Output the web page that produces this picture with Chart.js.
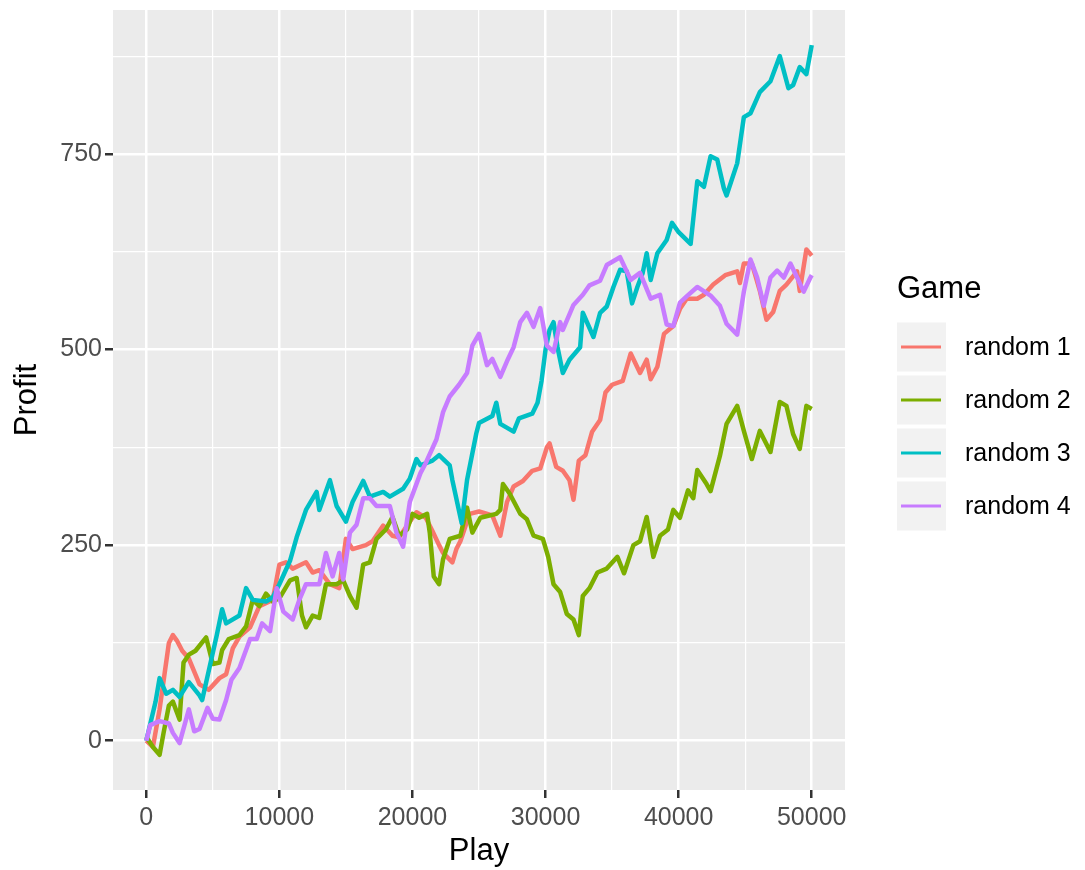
<!DOCTYPE html>
<html>
<head>
<meta charset="utf-8">
<script src="https://cdn.jsdelivr.net/npm/chart.js@4.4.1/dist/chart.umd.min.js"></script>
<style>
  body { margin: 0; background: #ffffff; }
  #wrap { width: 1085px; height: 870px; }
</style>
</head>
<body>
<div id="wrap"><canvas id="profitChart" width="1085" height="870"></canvas></div>
<script>
// Datos (jugada, beneficio)
const games = ['random 1', 'random 2', 'random 3', 'random 4'];
const colors = ['#F8766D', '#7CAE00', '#00BFC4', '#C77CFF'];

const plays1 = [0, 500, 1000, 1700, 2000, 2300, 2700, 3200, 4000, 4700, 5500, 6000, 6500, 7000, 7800, 8500, 9500, 10000, 10500, 11000, 12000, 12500, 13000, 13800, 14500, 15000, 15500, 16500, 17000, 17800, 18500, 19000, 19800, 20300, 21000, 21500, 22000, 22300, 23000, 23300, 23600, 24300, 25000, 26000, 26600, 27100, 27600, 28300, 29000, 29600, 30100, 30300, 30800, 31300, 31800, 32100, 32500, 33000, 33500, 34100, 34500, 35000, 35800, 36400, 37100, 37600, 37900, 38400, 38900, 39600, 40100, 40600, 41400, 41900, 42600, 43500, 44400, 44600, 44900, 45500, 46100, 46600, 47100, 47600, 48100, 48900, 49100, 49600, 50000];
const profit1 = [0, -8, 40, 125, 135, 128, 115, 105, 72, 65, 80, 85, 118, 133, 145, 172, 180, 225, 228, 220, 228, 215, 218, 200, 195, 258, 245, 250, 255, 275, 262, 260, 280, 292, 285, 268, 250, 240, 228, 245, 255, 290, 293, 288, 262, 305, 325, 332, 345, 348, 375, 380, 350, 345, 333, 308, 358, 365, 395, 410, 445, 455, 460, 495, 470, 487, 462, 478, 520, 530, 552, 565, 565, 570, 583, 595, 600, 585, 610, 610, 575, 538, 548, 575, 583, 600, 575, 628, 620];

const plays2 = [0, 500, 1000, 1300, 1700, 2000, 2500, 2800, 3200, 3700, 4500, 5000, 5500, 5700, 6200, 7000, 7500, 8000, 8500, 9000, 9500, 10000, 10800, 11300, 11700, 12000, 12500, 13000, 13500, 14300, 14800, 15300, 15800, 16300, 16800, 17300, 18000, 18500, 19000, 19600, 20000, 20500, 21100, 21300, 21600, 22000, 22300, 22800, 23600, 24100, 24500, 25100, 26300, 26600, 26800, 27300, 28100, 28600, 29100, 29800, 30200, 30600, 31100, 31600, 32100, 32500, 32800, 33300, 33900, 34600, 35400, 35900, 36600, 37100, 37600, 38100, 38600, 39200, 39600, 40100, 40700, 41100, 41400, 42100, 42400, 43100, 43600, 44400, 44900, 45500, 46100, 46900, 47600, 48100, 48600, 49100, 49600, 50000];
const profit2 = [5, -8, -18, 10, 45, 50, 27, 100, 110, 115, 132, 98, 100, 116, 130, 135, 146, 180, 172, 188, 178, 182, 205, 208, 160, 145, 160, 157, 200, 200, 205, 185, 170, 225, 228, 258, 270, 286, 262, 270, 290, 285, 290, 266, 210, 200, 232, 258, 262, 298, 266, 285, 290, 295, 328, 316, 290, 283, 262, 258, 235, 200, 190, 162, 155, 135, 185, 195, 215, 220, 235, 214, 250, 255, 286, 235, 262, 270, 295, 285, 320, 310, 346, 328, 319, 364, 405, 428, 396, 360, 396, 369, 433, 428, 392, 373, 428, 424];

const plays3 = [0, 700, 1000, 1500, 2000, 2500, 3200, 4000, 4200, 5300, 5700, 6000, 7000, 7500, 8000, 9000, 9500, 10000, 10800, 11300, 12000, 12800, 13000, 13800, 14300, 15000, 15500, 16300, 16800, 17800, 18300, 19300, 19800, 20300, 20600, 21500, 22000, 22800, 23000, 23700, 24100, 24800, 25000, 26000, 26300, 26600, 27600, 28000, 29000, 29400, 29700, 30000, 30300, 30600, 30900, 31300, 31800, 32600, 32800, 33600, 34100, 34600, 35100, 35600, 36100, 36500, 36900, 37300, 37600, 37900, 38400, 39100, 39500, 40000, 40900, 41400, 41900, 42400, 42900, 43400, 43600, 44400, 44900, 45400, 46100, 46900, 47600, 48250, 48600, 49100, 49600, 50000];
const profit3 = [0, 50, 80, 60, 65, 56, 75, 58, 52, 135, 168, 150, 160, 195, 180, 178, 183, 200, 230, 260, 295, 318, 295, 333, 300, 280, 305, 332, 312, 318, 312, 322, 335, 360, 352, 358, 365, 352, 333, 278, 333, 393, 406, 415, 432, 405, 395, 412, 418, 432, 460, 500, 525, 535, 503, 470, 487, 503, 547, 516, 547, 555, 580, 602, 600, 559, 580, 598, 623, 589, 623, 640, 662, 650, 635, 715, 708, 747, 743, 706, 697, 738, 797, 802, 829, 843, 875, 834, 838, 861, 852, 889];

const plays4 = [0, 300, 1000, 1700, 2000, 2500, 3200, 3600, 4000, 4600, 5000, 5500, 6000, 6400, 7000, 7800, 8300, 8700, 9300, 9800, 10300, 11000, 11500, 12000, 13000, 13500, 14000, 14500, 14800, 15300, 15800, 16300, 16800, 17300, 18300, 18800, 19300, 19800, 20600, 21000, 21800, 22300, 22800, 23500, 24100, 24500, 25000, 25600, 26000, 26600, 27100, 27600, 28100, 28600, 29100, 29600, 30100, 30600, 31100, 31300, 32100, 32800, 33300, 34100, 34600, 35600, 36400, 37100, 37900, 38600, 39100, 39600, 40100, 40600, 41400, 42400, 43100, 43600, 44400, 44900, 45400, 45900, 46400, 46900, 47400, 47900, 48400, 48900, 49400, 49900, 50000];
const profit4 = [0, 20, 25, 22, 10, -3, 40, 12, 15, 42, 28, 27, 52, 78, 93, 130, 130, 150, 140, 195, 165, 155, 180, 200, 200, 240, 210, 240, 206, 266, 276, 310, 310, 300, 300, 266, 248, 305, 342, 355, 385, 420, 440, 455, 470, 505, 520, 480, 488, 465, 485, 503, 535, 547, 529, 553, 505, 497, 535, 525, 557, 570, 582, 588, 608, 618, 589, 598, 565, 570, 532, 530, 560, 568, 580, 569, 556, 533, 519, 574, 615, 592, 556, 592, 601, 592, 610, 592, 574, 592, 595];

const xTicks = [0, 5000, 10000, 15000, 20000, 25000, 30000, 35000, 40000, 45000, 50000];
const yTicks = [0, 125, 250, 375, 500, 625, 750, 875];

const allPlays = [plays1, plays2, plays3, plays4];
const allProfit = [profit1, profit2, profit3, profit4];

const FONT = "'Liberation Sans', Arial, Helvetica, sans-serif";

const xMajor = v => v % 10000 === 0;
const yMajor = v => v % 250 === 0;

// Fondo gris del panel (estilo ggplot)
const panelBg = {
    id: 'panelBg',
    beforeDraw(chart) {
        const { ctx, chartArea: a } = chart;
        ctx.save();
        ctx.fillStyle = '#FFFFFF';
        ctx.fillRect(0, 0, chart.width, chart.height);
        ctx.fillStyle = '#EBEBEB';
        ctx.fillRect(a.left, a.top, a.right - a.left, a.bottom - a.top);
        ctx.restore();
    }
};

// Leyenda dibujada a mano con cajas grises
const gameLegend = {
    id: 'gameLegend',
    afterDraw(chart) {
        const ctx = chart.ctx;
        const left = chart.chartArea.right + 52;
        const box = 49;
        const step = 53;
        const firstY = 347;
        ctx.save();
        ctx.fillStyle = '#000000';
        ctx.font = '31px ' + FONT;
        ctx.textAlign = 'left';
        ctx.textBaseline = 'middle';
        ctx.fillText('Game', left, 289);
        ctx.font = '25px ' + FONT;
        games.forEach((g, i) => {
            const cy = firstY + i * step;
            ctx.fillStyle = '#F2F2F2';
            ctx.fillRect(left, cy - box / 2, box, box);
            ctx.strokeStyle = colors[i];
            ctx.lineWidth = 3;
            ctx.beginPath();
            ctx.moveTo(left + 4, cy);
            ctx.lineTo(left + box - 5, cy);
            ctx.stroke();
            ctx.fillStyle = '#000000';
            ctx.fillText(g, left + 68, cy + 1);
        });
        ctx.restore();
    }
};

const datasets = games.map((g, i) => ({
    label: g,
    data: allPlays[i].map((p, j) => ({ x: p, y: allProfit[i][j] })),
    borderColor: colors[i],
    backgroundColor: colors[i],
    borderWidth: 4.5,
    pointRadius: 0,
    tension: 0,
    borderJoinStyle: 'round',
    order: games.length - 1 - i
}));

const ctx = document.getElementById('profitChart').getContext('2d');

new Chart(ctx, {
    type: 'line',
    data: { datasets: datasets },
    options: {
        responsive: false,
        animation: false,
        layout: { padding: { top: 10, right: 240, bottom: 0, left: 0 } },
        plugins: {
            legend: { display: false },
            tooltip: { enabled: false }
        },
        scales: {
            x: {
                type: 'linear',
                min: -2500,
                max: 52500,
                afterBuildTicks: scale => { scale.ticks = xTicks.map(v => ({ value: v })); },
                afterFit: scale => {
                    scale.height = 80;
                    scale.paddingLeft = 0;
                    scale.paddingRight = 0;
                },
                border: { display: false },
                grid: {
                    color: '#FFFFFF',
                    lineWidth: c => (xMajor(c.tick.value) ? 2.5 : 1.2),
                    drawTicks: true,
                    tickLength: 8,
                    tickWidth: 2.5,
                    tickColor: c => (xMajor(c.tick.value) ? '#333333' : 'rgba(0,0,0,0)')
                },
                ticks: {
                    autoSkip: false,
                    maxRotation: 0,
                    padding: 5,
                    color: '#4D4D4D',
                    font: { family: FONT, size: 25 },
                    callback: v => (xMajor(v) ? String(v) : '')
                },
                title: {
                    display: true,
                    text: 'Play',
                    color: '#000000',
                    font: { family: FONT, size: 31 },
                    padding: { top: 0, bottom: 0 }
                }
            },
            y: {
                type: 'linear',
                min: -63,
                max: 934,
                afterBuildTicks: scale => { scale.ticks = yTicks.map(v => ({ value: v })); },
                afterFit: scale => {
                    scale.width = 113;
                    scale.paddingTop = 0;
                    scale.paddingBottom = 0;
                },
                border: { display: false },
                grid: {
                    color: '#FFFFFF',
                    lineWidth: c => (yMajor(c.tick.value) ? 2.5 : 1.2),
                    drawTicks: true,
                    tickLength: 8,
                    tickWidth: 2.5,
                    tickColor: c => (yMajor(c.tick.value) ? '#333333' : 'rgba(0,0,0,0)')
                },
                ticks: {
                    autoSkip: false,
                    padding: 3,
                    color: '#4D4D4D',
                    font: { family: FONT, size: 25 },
                    callback: v => (yMajor(v) ? String(v) : '')
                },
                title: {
                    display: true,
                    text: 'Profit',
                    color: '#000000',
                    font: { family: FONT, size: 31 },
                    padding: { top: 9, bottom: 0 }
                }
            }
        }
    },
    plugins: [panelBg, gameLegend]
});
</script>
</body>
</html>
